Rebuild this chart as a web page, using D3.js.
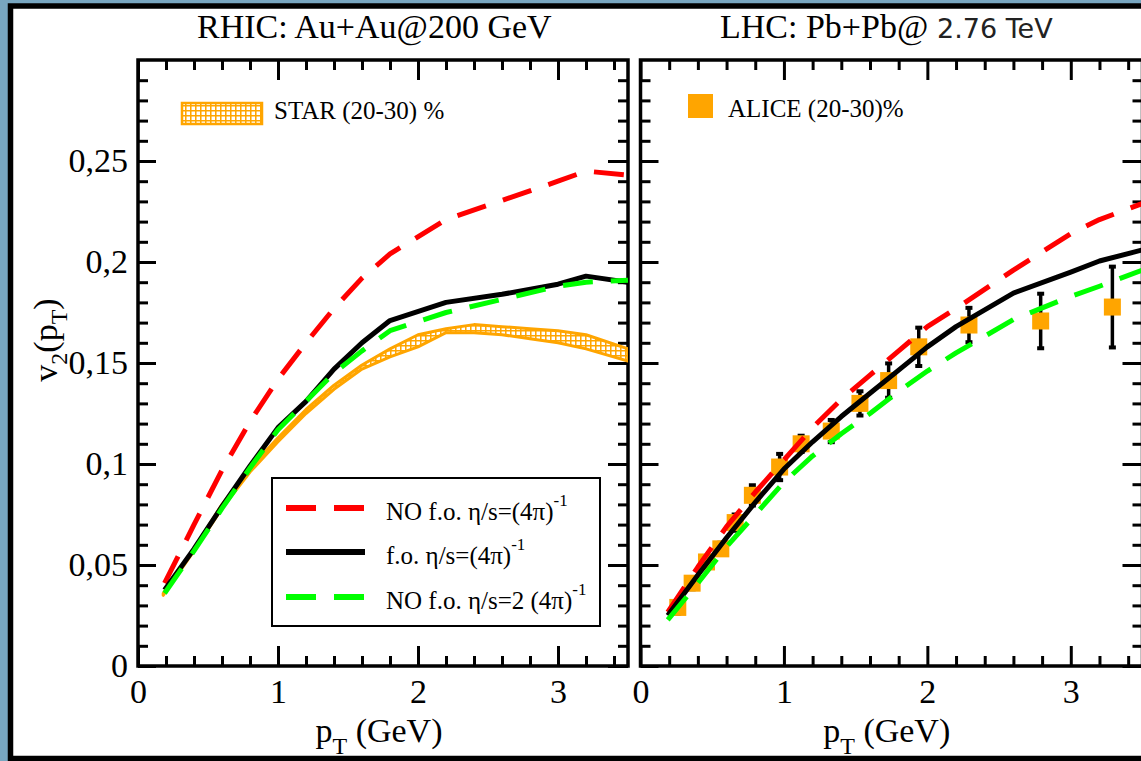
<!DOCTYPE html>
<html><head><meta charset="utf-8">
<script src="https://cdn.jsdelivr.net/npm/d3@7"></script>
<style>html,body{margin:0;padding:0;background:#78a6c0;overflow:hidden}</style>
</head><body>
<svg id="c" width="1141" height="761"></svg>
<script>
// ---------- data ----------
const leftX     = [0.19, 0.4, 0.6, 0.8, 1.0, 1.2, 1.4, 1.6, 1.8, 2.2, 2.6, 3.0, 3.2, 3.5];
const leftRed   = [0.041, 0.070, 0.097, 0.121, 0.142, 0.160, 0.177, 0.192, 0.204, 0.221, 0.2305, 0.240, 0.245, 0.243];
const leftBlack = [0.0376, 0.058, 0.079, 0.099, 0.118, 0.131, 0.147, 0.160, 0.171, 0.180, 0.184, 0.189, 0.193, 0.190];
const leftGreen = [0.036, 0.057, 0.078, 0.098, 0.117, 0.131, 0.145, 0.156, 0.166, 0.175, 0.1815, 0.188, 0.190, 0.191];

const starX  = [0.18, 0.4, 0.6, 0.8, 1.0, 1.2, 1.4, 1.6, 1.8, 2.0, 2.2, 2.4, 2.6, 2.8, 3.0, 3.2, 3.5];
const starHi = [0.036, 0.058, 0.080, 0.098, 0.113, 0.127, 0.139, 0.149, 0.157, 0.164, 0.167, 0.169, 0.168, 0.167, 0.166, 0.164, 0.157];
const starLo = [0.035, 0.057, 0.078, 0.096, 0.111, 0.125, 0.137, 0.147, 0.153, 0.158, 0.165, 0.165, 0.164, 0.162, 0.160, 0.157, 0.151];

const rightX     = [0.19, 0.4, 0.6, 0.8, 1.0, 1.2, 1.4, 1.6, 1.8, 2.0, 2.2, 2.6, 3.0, 3.2, 3.5];
const rightRed   = [0.0267, 0.049, 0.069, 0.086, 0.102, 0.118, 0.132, 0.144, 0.156, 0.168, 0.177, 0.196, 0.214, 0.221, 0.229];
const rightBlack = [0.025, 0.045, 0.0635, 0.081, 0.0975, 0.111, 0.1235, 0.135, 0.1465, 0.158, 0.168, 0.1846, 0.195, 0.2005, 0.206];
const rightGreen = [0.0228, 0.041, 0.059, 0.075, 0.091, 0.104, 0.115, 0.125, 0.136, 0.146, 0.155, 0.1715, 0.183, 0.188, 0.196];

const aliceX   = [0.26, 0.36, 0.46, 0.56, 0.66, 0.78, 0.97, 1.12, 1.33, 1.53, 1.73, 1.94, 2.29, 2.79, 3.29];
const aliceY   = [0.029, 0.041, 0.0515, 0.058, 0.071, 0.0845, 0.0985, 0.110, 0.1163, 0.130, 0.1413, 0.158, 0.1688, 0.1708, 0.1777];
const aliceErr = [0.003, 0.003, 0.003, 0.003, 0.004, 0.005, 0.0065, 0.004, 0.0055, 0.006, 0.0085, 0.0095, 0.0085, 0.0135, 0.02];

const xMajor = [0, 1, 2, 3];
const xMinor = [0.2,0.4,0.6,0.8,1.2,1.4,1.6,1.8,2.2,2.4,2.6,2.8,3.2,3.4];
const yMajor = [0, 0.05, 0.1, 0.15, 0.2, 0.25];
const yMajorLabels = ["0", "0,05", "0,1", "0,15", "0,2", "0,25"];
const xMajorLabels = ["0", "1", "2", "3"];
const yMinor = d3.range(1, 30).map(i => i / 100).filter(v => Math.round(v * 100) % 5 !== 0);

const legendLabels = ["NO f.o. η/s=(4π)", "f.o. η/s=(4π)", "NO f.o. η/s=2 (4π)"];
const titles = ["RHIC: Au+Au@200 GeV", "LHC: Pb+Pb@", "2.76 TeV"];

// ---------- drawing ----------
const SERIF = "'Liberation Serif','Times New Roman',serif";
const svg = d3.select("#c");
const RED = "#ff0000", GREEN = "#00ff00", ORANGE = "#ffa500";

const defs = svg.append("defs");
const pat = defs.append("pattern").attr("id", "hatch").attr("patternUnits", "userSpaceOnUse")
  .attr("width", 5).attr("height", 5);
pat.append("rect").attr("width", 5).attr("height", 5).attr("fill", "#fff");
pat.append("path").attr("d", "M0,0.75H5M0.75,0V5").attr("stroke", ORANGE).attr("stroke-width", 1.6);

// outer background & frame
svg.append("rect").attr("width", 1141).attr("height", 761).attr("fill", "#78a6c0");
svg.append("rect").attr("x", 10.5).attr("y", 6).attr("width", 1150).attr("height", 752.5)
  .attr("fill", "#fff").attr("stroke", "#000").attr("stroke-width", 5.5);

const y = d3.scaleLinear().domain([0, 0.3]).range([666, 60]);
const xL = d3.scaleLinear().domain([0, 3.5]).range([138, 628]);
const xR = d3.scaleLinear().domain([0, 3.5]).range([640.5, 1142.5]);

function panel(x, id, showYLabels) {
  const g = svg.append("g");
  const [x0, x1] = x.range(), [y0, y1] = y.range();
  defs.append("clipPath").attr("id", id).append("rect")
    .attr("x", x0).attr("y", y1).attr("width", x1 - x0).attr("height", y0 - y1);
  const axisStyle = sel => { sel.select(".domain").remove(); sel.selectAll("line").attr("stroke", "#000").attr("stroke-width", 3); };
  // bottom
  g.append("g").attr("transform", `translate(0,${y0})`)
    .call(d3.axisBottom(x).tickValues(xMajor).tickSize(-20).tickPadding(13).tickFormat((d, i) => xMajorLabels[i]))
    .call(axisStyle)
    .call(s => s.selectAll("text").attr("font-family", SERIF).attr("font-size", 34).attr("fill", "#000"));
  g.append("g").attr("transform", `translate(0,${y0})`)
    .call(d3.axisBottom(x).tickValues(xMinor).tickSize(-10).tickFormat("")).call(axisStyle);
  // top
  g.append("g").attr("transform", `translate(0,${y1})`)
    .call(d3.axisTop(x).tickValues(xMajor).tickSize(-20).tickFormat("")).call(axisStyle);
  g.append("g").attr("transform", `translate(0,${y1})`)
    .call(d3.axisTop(x).tickValues(xMinor).tickSize(-10).tickFormat("")).call(axisStyle);
  // left
  g.append("g").attr("transform", `translate(${x0},0)`)
    .call(d3.axisLeft(y).tickValues(yMajor).tickSize(-18).tickPadding(10).tickFormat((d, i) => showYLabels ? yMajorLabels[i] : ""))
    .call(axisStyle)
    .call(s => s.selectAll("text").attr("font-family", SERIF).attr("font-size", 34).attr("fill", "#000"));
  g.append("g").attr("transform", `translate(${x0},0)`)
    .call(d3.axisLeft(y).tickValues(yMinor).tickSize(-10).tickFormat("")).call(axisStyle);
  // right
  g.append("g").attr("transform", `translate(${x1},0)`)
    .call(d3.axisRight(y).tickValues(yMajor).tickSize(-20).tickFormat("")).call(axisStyle);
  g.append("g").attr("transform", `translate(${x1},0)`)
    .call(d3.axisRight(y).tickValues(yMinor).tickSize(-10).tickFormat("")).call(axisStyle);
  // frame
  g.append("rect").attr("x", x0).attr("y", y1).attr("width", x1 - x0).attr("height", y0 - y1)
    .attr("fill", "none").attr("stroke", "#000").attr("stroke-width", 3.5);
  // x title
  const t = g.append("text").attr("x", (x0 + Math.min(x1, 1141)) / 2 - 4).attr("y", 742)
    .attr("text-anchor", "middle").attr("font-family", SERIF).attr("font-size", 34);
  t.append("tspan").text("p");
  t.append("tspan").attr("font-size", 24).attr("dy", 12).text("T");
  t.append("tspan").attr("dy", -12).text(" (GeV)");
  return svg.append("g").attr("clip-path", `url(#${id})`);
}

const gL = panel(xL, "clipL", true);
const gR = panel(xR, "clipR", false);

function curve(g, x, xs, ys, color, dashed) {
  const line = d3.line().x(d => x(d[0])).y(d => y(d[1]));
  g.append("path").attr("d", line(xs.map((v, i) => [v, ys[i]])))
    .attr("fill", "none").attr("stroke", color).attr("stroke-width", 5)
    .attr("stroke-linejoin", "round")
    .attr("stroke-dasharray", dashed ? "30,18" : null);
}

// left panel: STAR band
const area = d3.area().x(d => xL(d[0])).y0(d => y(d[1])).y1(d => y(d[2]));
gL.append("path").attr("d", area(starX.map((v, i) => [v, starLo[i], starHi[i]])))
  .attr("fill", "url(#hatch)").attr("stroke", ORANGE).attr("stroke-width", 3).attr("stroke-linejoin", "round");
curve(gL, xL, leftX, leftRed, RED, true);
curve(gL, xL, leftX, leftBlack, "#000", false);
curve(gL, xL, leftX, leftGreen, GREEN, true);

// right panel: ALICE points
aliceX.forEach((v, i) => {
  const cx = xR(v), ya = y(aliceY[i] + aliceErr[i]), yb = y(aliceY[i] - aliceErr[i]);
  gR.append("line").attr("x1", cx).attr("x2", cx).attr("y1", ya).attr("y2", yb).attr("stroke", "#000").attr("stroke-width", 3.5);
  [ya, yb].forEach(yy => gR.append("line").attr("x1", cx - 3.5).attr("x2", cx + 3.5).attr("y1", yy).attr("y2", yy)
    .attr("stroke", "#000").attr("stroke-width", 4));
});
gR.selectAll("rect.alice").data(aliceX.map((v, i) => [v, aliceY[i]])).join("rect").attr("class", "alice")
  .attr("x", d => xR(d[0]) - 8.5).attr("y", d => y(d[1]) - 8.5).attr("width", 17).attr("height", 17).attr("fill", ORANGE);
curve(gR, xR, rightX, rightRed, RED, true);
curve(gR, xR, rightX, rightBlack, "#000", false);
curve(gR, xR, rightX, rightGreen, GREEN, true);

// titles
svg.append("text").attr("x", 197).attr("y", 38).attr("font-family", SERIF).attr("font-size", 34).text(titles[0]);
svg.append("text").attr("x", 720).attr("y", 38).attr("font-family", SERIF).attr("font-size", 34).text(titles[1]);
svg.append("text").attr("x", 937).attr("y", 38).attr("font-family", "'DejaVu Sans',sans-serif")
  .attr("font-size", 27).attr("fill", "#222").text(titles[2]);

// y title
const yt = svg.append("text").attr("transform", "translate(57,340) rotate(-90)").attr("text-anchor", "middle")
  .attr("font-family", SERIF).attr("font-size", 34);
yt.append("tspan").text("v");
yt.append("tspan").attr("font-size", 24).attr("dy", 10).text("2");
yt.append("tspan").attr("dy", -10).text("(p");
yt.append("tspan").attr("font-size", 24).attr("dy", 10).text("T");
yt.append("tspan").attr("dy", -10).text(")");

// STAR legend
svg.append("rect").attr("x", 182).attr("y", 103).attr("width", 80).attr("height", 21)
  .attr("fill", "url(#hatch)").attr("stroke", ORANGE).attr("stroke-width", 2.5);
svg.append("text").attr("x", 274).attr("y", 119).attr("font-family", SERIF).attr("font-size", 25).text("STAR (20-30) %");
// ALICE legend
svg.append("rect").attr("x", 688).attr("y", 94).attr("width", 25).attr("height", 24).attr("fill", ORANGE);
svg.append("text").attr("x", 728).attr("y", 117).attr("font-family", SERIF).attr("font-size", 25).text("ALICE (20-30)%");

// curve legend
svg.append("rect").attr("x", 272).attr("y", 478).attr("width", 328).attr("height", 148)
  .attr("fill", "#fff").attr("stroke", "#000").attr("stroke-width", 2);
const legColors = [RED, "#000", GREEN], legDash = [true, false, true], legY = [508, 552, 597];
legendLabels.forEach((lab, i) => {
  svg.append("line").attr("x1", 286).attr("x2", 365).attr("y1", legY[i]).attr("y2", legY[i])
    .attr("stroke", legColors[i]).attr("stroke-width", 6).attr("stroke-dasharray", legDash[i] ? "30,18" : null);
  const tt = svg.append("text").attr("x", 386).attr("y", legY[i] + 11.5).attr("font-family", SERIF).attr("font-size", 25);
  tt.append("tspan").text(lab);
  tt.append("tspan").attr("font-size", 17).attr("dy", -14).text("-1");
});
</script>
</body></html>
